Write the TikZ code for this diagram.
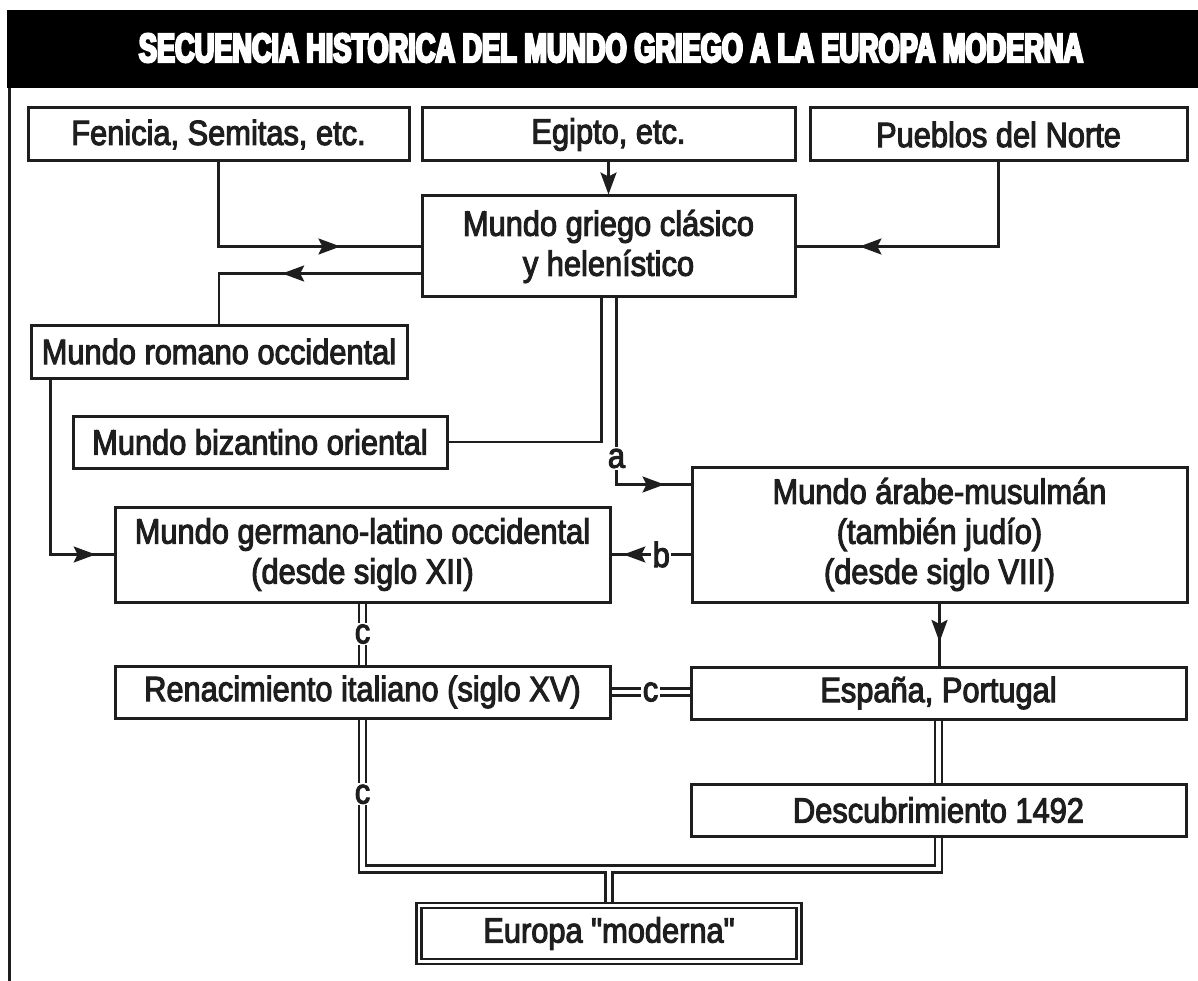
\documentclass[tikz,border=0pt]{standalone}
\usepackage{fontspec}
\usepackage{xcolor}
\usepackage{tikz}
\usetikzlibrary{arrows.meta, positioning, backgrounds, decorations.markings}

\newfontfamily\boxfont{Liberation Sans}[FakeStretch=0.88, FakeBold=3]
\newfontfamily\titlefont{Liberation Sans}[FakeStretch=0.67, FakeBold=6]
\definecolor{ink}{HTML}{1E1E1E}

\begin{document}
\begin{tikzpicture}[
  x=1pt, y=-1pt,
  box/.style={rectangle, draw=ink, line width=3pt, fill=white,
              inner sep=0pt, text=ink, align=center,
              font=\boxfont\fontsize{35pt}{40pt}\selectfont},
  dblbox/.style={box, line width=2.5pt, double=white, double distance=2.5pt},
  lbl/.style={fill=white, inner sep=1.5pt, text=ink,
              font=\boxfont\fontsize{35pt}{40pt}\selectfont},
  conn/.style={color=ink, line width=2.5pt},
  dbl/.style={draw=ink, line width=2.5pt, double=white, double distance=4.5pt},
  endarr/.style={-{Stealth[length=22pt, width=16pt, inset=4pt]}},
  midarr/.style={postaction={decorate, decoration={markings,
      mark=at position #1 with {\arrow{Stealth[length=22pt, width=16pt, inset=4pt]}}}}}
]
\useasboundingbox (0,0) rectangle (1198,981);

%% ── TITLE BAR and frame ──────────────────────────────────────────────
\fill[black] (7,10) rectangle (1198,88);
\node[text=white, inner sep=0pt,
      font=\titlefont\bfseries\fontsize{40.5pt}{44pt}\selectfont] (title) at (611,48)
  {SECUENCIA HISTORICA DEL MUNDO GRIEGO A LA EUROPA MODERNA};
\draw[ink, line width=3pt] (9,88) -- (9,981);

%% ── ROW 1: sources ───────────────────────────────────────────────────
\node[box, minimum width=381pt, minimum height=53pt] at (218.5,134.5) (fen) {Fenicia, Semitas, etc.};
\node[box, minimum width=373pt, minimum height=53pt] at (608.5,134.5) (egy) {Egipto, etc.};
\node[box, minimum width=377pt, minimum height=53pt] at (998.5,134.5) (pue) {Pueblos del Norte};

%% ── Greek world and its heirs ────────────────────────────────────────
\node[box, minimum width=373pt, minimum height=101pt] at (608.5,246.5) (gri) {Mundo griego clásico\\y helenístico};
\node[box, minimum width=376pt, minimum height=53pt] at (219,351.5) (rom) {Mundo romano occidental};
\node[box, minimum width=374pt, minimum height=52pt] at (260,442) (biz) {Mundo bizantino oriental};

%% ── Middle ages ──────────────────────────────────────────────────────
\node[box, minimum width=495pt, minimum height=95pt] at (362.5,554.5) (ger) {Mundo germano-latino occidental\\(desde siglo XII)};
\node[box, minimum width=495pt, minimum height=135pt] at (939.5,534.5) (ara) {Mundo árabe-musulmán\\(también judío)\\(desde siglo VIII)};

%% ── ROW: Renaissance / Iberia ────────────────────────────────────────
\node[box, minimum width=495pt, minimum height=52pt] at (362.5,692) (ren) {Renacimiento italiano (siglo XV)};
\node[box, minimum width=495pt, minimum height=52pt] at (938.5,693) (esp) {España, Portugal};
\node[box, minimum width=495pt, minimum height=52pt] at (938.5,810) (des) {Descubrimiento 1492};

%% ── Result ───────────────────────────────────────────────────────────
\node[dblbox, minimum width=380pt, minimum height=56pt] at (609,933.5) (eur) {Europa "moderna"};

%% ── connectors, behind the boxes ─────────────────────────────────────
\begin{scope}[on background layer]
% sources into the Greek world
\draw[conn, endarr] (egy.south) -- (gri.north);
\draw[conn, midarr=0.72] (fen.south) |- (gri.west);
\draw[conn, midarr=0.78] (pue.south) |- (gri.east);
% Greek world outwards
\draw[conn, midarr=0.55] ([yshift=-27pt]gri.west) -| (rom.north);
\draw[conn] ([xshift=-7pt]gri.south) |- (biz.east);
\draw[conn, midarr=0.9] ([xshift=8pt]gri.south) |- node[lbl, pos=0.43] {a} ([yshift=50pt]ara.west);
% into the Latin west
\draw[conn, midarr=0.925] ([xshift=21pt]rom.south west) |- (ger.west);
\draw[conn, midarr=0.85] (ara.west |- ger.east) -- node[lbl, pos=0.37] {b} (ger.east);
\draw[conn, midarr=0.62] (ara.south) -- (ara.south |- esp.north);

%% ── double lines "c" ─────────────────────────────────────────────────
\draw[dbl] (ger.south) -- node[lbl] {c} (ren.north);
\draw[dbl] (ren.east) -- node[lbl] {c} (ren.east -| esp.west);
\draw[dbl] (esp.south) -- (des.north);
\coordinate (bus) at (609,869);
\draw[dbl] (ren.south) -- node[lbl] {c} (ren.south |- bus) -- (des.south |- bus) -- (des.south);
\draw[dbl] ([yshift=-2.25pt]bus) -- (eur.north);
\end{scope}

\end{tikzpicture}
\end{document}
